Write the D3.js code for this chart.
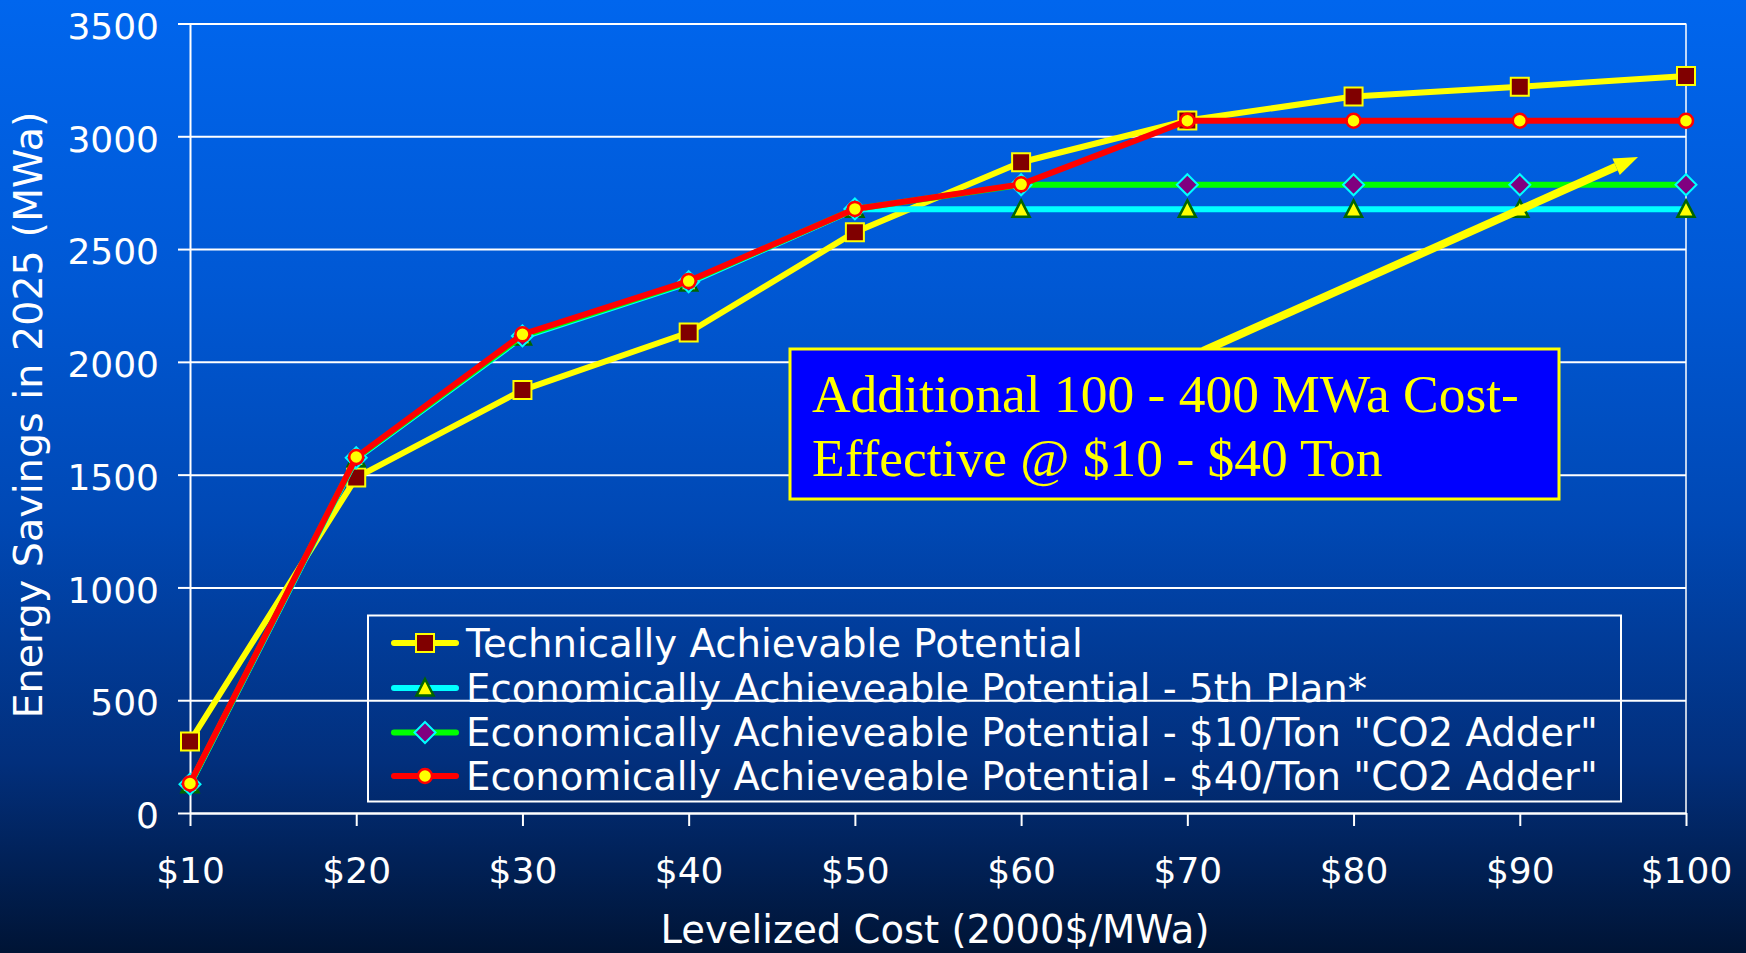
<!DOCTYPE html>
<html><head><meta charset="utf-8">
<script src="https://cdn.jsdelivr.net/npm/d3@7"></script>
<style>html,body{margin:0;padding:0;overflow:hidden;background:#001433;} svg{display:block}</style>
</head><body>
<svg id="c" width="1746" height="953"></svg>
<script>
// ---------- data ----------
const categories = ["$10","$20","$30","$40","$50","$60","$70","$80","$90","$100"];
const technical = [317, 1487, 1875, 2130, 2575, 2885, 3070, 3176, 3220, 3267];
const plan5     = [125, 1570, 2110, 2350, 2676, 2676, 2676, 2676, 2676, 2676];
const co2Adder10 = [128, 1575, 2115, 2355, 2678, 2785, 2785, 2785, 2785, 2785];
const co2Adder40 = [131, 1578, 2122, 2358, 2678, 2787, 3069, 3069, 3069, 3069];
const seriesNames = [
  "Technically Achievable Potential",
  "Economically Achieveable Potential - 5th Plan*",
  "Economically Achieveable Potential - $10/Ton \"CO2 Adder\"",
  "Economically Achieveable Potential - $40/Ton \"CO2 Adder\""
];
const yTickValues = [0, 500, 1000, 1500, 2000, 2500, 3000, 3500];
const xTitle = "Levelized Cost (2000$/MWa)";
const yTitle = "Energy Savings in 2025 (MWa)";
const annotationLines = ["Additional 100 - 400 MWa Cost-", "Effective @ $10 - $40 Ton"];

// ---------- setup ----------
const W = 1746, H = 953;
const svg = d3.select("#c");
const defs = svg.append("defs");
const grad = defs.append("linearGradient").attr("id","bg").attr("x1",0).attr("y1",0).attr("x2",0).attr("y2",1);
[[0,"#0066ee"],[0.3,"#0058d4"],[0.55,"#0048b4"],[0.8,"#022f7c"],[1,"#001435"]].forEach(([o,c])=>
  grad.append("stop").attr("offset",o).attr("stop-color",c));
svg.append("rect").attr("width",W).attr("height",H).attr("fill","url(#bg)");

const pLeft = 190, pRight = 1686, pTop = 23.5, pBottom = 813;
const x = d3.scalePoint().domain(categories).range([pLeft, pRight]);
const y = d3.scaleLinear().domain([0, 3500]).range([pBottom, pTop]);

const FONT = "'DejaVu Sans', Verdana, sans-serif";

// gridlines
const grid = svg.append("g").attr("transform",`translate(${pLeft},0)`)
  .call(d3.axisLeft(y).tickValues(yTickValues).tickSize(-(pRight-pLeft)).tickFormat(""));
grid.select(".domain").remove();
grid.selectAll("line").attr("stroke","#ffffff").attr("stroke-width",2);

// right border of plot area
svg.append("line").attr("x1",pRight).attr("x2",pRight).attr("y1",pTop).attr("y2",pBottom)
  .attr("stroke","#ffffff").attr("stroke-width",1.5);

// y axis
const yAxis = svg.append("g").attr("transform",`translate(${pLeft},0)`)
  .call(d3.axisLeft(y).tickValues(yTickValues).tickSize(12).tickSizeOuter(0).tickPadding(19).tickFormat(d3.format("d")));
yAxis.select(".domain").attr("stroke","#fff").attr("stroke-width",2);
yAxis.selectAll(".tick line").attr("stroke","#fff").attr("stroke-width",2);
yAxis.selectAll(".tick text").attr("fill","#fff").attr("font-family",FONT).attr("font-size",36)
  .attr("dy","0.41em");

// x axis
const xAxis = svg.append("g").attr("transform",`translate(0,${pBottom})`)
  .call(d3.axisBottom(x).tickSize(13).tickSizeOuter(0).tickPadding(31));
xAxis.select(".domain").attr("stroke","#fff").attr("stroke-width",2);
xAxis.selectAll(".tick line").attr("stroke","#fff").attr("stroke-width",2);
xAxis.selectAll(".tick text").attr("fill","#fff").attr("font-family",FONT).attr("font-size",36)
  .attr("dy","0.71em");

// axis titles
function fit(sel, target){
  const len = sel.node().getComputedTextLength();
  const fs = parseFloat(sel.attr("font-size"));
  sel.attr("font-size", fs*target/len);
}
const xt = svg.append("text").attr("x",(pLeft+pRight)/2 - 3).attr("y",943).attr("text-anchor","middle")
  .attr("fill","#fff").attr("font-family",FONT).attr("font-size",38).text(xTitle);
fit(xt, 549);
const yt = svg.append("text").attr("transform","translate(42,415) rotate(-90)").attr("text-anchor","middle")
  .attr("fill","#fff").attr("font-family",FONT).attr("font-size",38).text(yTitle);
fit(yt, 607);

// ---------- series ----------
const markerDefs = {
  square:  {path: "M-9,-9H9V9H-9Z", fill:"#800000", stroke:"#ffff00", sw:2},
  triangle:{path: "M0,-9L8.5,7.5L-8.5,7.5Z", fill:"#ffff00", stroke:"#006600", sw:2.5},
  diamond: {path: "M0,-10.5L10.5,0L0,10.5L-10.5,0Z", fill:"#800080", stroke:"#00ffff", sw:2},
  circle:  {path: d3.symbol(d3.symbolCircle, Math.PI*7*7)(), fill:"#ffff00", stroke:"#ff0000", sw:2.5}
};
const series = [
  {name: seriesNames[0], values: technical, color:"#ffff00", marker:"square"},
  {name: seriesNames[1], values: plan5, color:"#00ffff", marker:"triangle"},
  {name: seriesNames[2], values: co2Adder10, color:"#00ff00", marker:"diamond"},
  {name: seriesNames[3], values: co2Adder40, color:"#ff0000", marker:"circle"}
];
const line = d3.line().x((d,i)=>x(categories[i])).y(d=>y(d));
series.forEach(s=>{
  const g = svg.append("g");
  g.append("path").attr("d", line(s.values)).attr("fill","none").attr("stroke",s.color)
    .attr("stroke-width",6).attr("stroke-linejoin","round");
  const m = markerDefs[s.marker];
  g.selectAll("path.m").data(s.values).join("path").attr("class","m")
    .attr("transform",(d,i)=>`translate(${x(categories[i])},${y(d)})`)
    .attr("d", m.path).attr("fill", m.fill).attr("stroke", m.stroke).attr("stroke-width", m.sw);
});

// ---------- legend ----------
const lg = svg.append("g");
lg.append("rect").attr("x",368).attr("y",615.5).attr("width",1253).attr("height",186)
  .attr("fill","none").attr("stroke","#fff").attr("stroke-width",2);
const rowY = [643, 688, 732.5, 776];
const legTexts = [];
series.forEach((s,i)=>{
  const cy = rowY[i];
  lg.append("line").attr("x1",394).attr("x2",456).attr("y1",cy).attr("y2",cy)
    .attr("stroke",s.color).attr("stroke-width",6).attr("stroke-linecap","round");
  const m = markerDefs[s.marker];
  lg.append("path").attr("transform",`translate(425,${cy})`).attr("d",m.path)
    .attr("fill",m.fill).attr("stroke",m.stroke).attr("stroke-width",m.sw);
  legTexts.push(lg.append("text").attr("x",466).attr("y",cy).attr("dy","0.36em")
    .attr("fill","#fff").attr("font-family",FONT).attr("font-size",36).text(s.name));
});
{
  const len = legTexts[3].node().getComputedTextLength();
  const fs = 36*1132/len;
  legTexts.forEach(t=>t.attr("font-size",fs));
}

// ---------- annotation ----------
const ax1 = 1203, ay1 = 351, ax2 = 1638, ay2 = 157;
const ang = Math.atan2(ay2-ay1, ax2-ax1);
const headLen = 24, headW = 9;
const bx = ax2 - headLen*Math.cos(ang), by = ay2 - headLen*Math.sin(ang);
svg.append("line").attr("x1",ax1).attr("y1",ay1).attr("x2",bx).attr("y2",by)
  .attr("stroke","#ffff00").attr("stroke-width",8);
svg.append("path").attr("d",
  `M${ax2},${ay2}L${bx - headW*Math.sin(ang)},${by + headW*Math.cos(ang)}L${bx + headW*Math.sin(ang)},${by - headW*Math.cos(ang)}Z`)
  .attr("fill","#ffff00");
svg.append("rect").attr("x",790).attr("y",349).attr("width",769).attr("height",150)
  .attr("fill","#0000ff").attr("stroke","#ffff00").attr("stroke-width",3);
const at = annotationLines.map((t,i)=>svg.append("text").attr("x",812).attr("y",[411.5,476][i])
  .attr("fill","#ffff00").attr("font-family","'Liberation Serif','Times New Roman',serif")
  .attr("font-size",50).text(t));
{
  const len = at[0].node().getComputedTextLength();
  const fs = 50*707/len;
  at.forEach(t=>t.attr("font-size",fs));
}
</script>
</body></html>
